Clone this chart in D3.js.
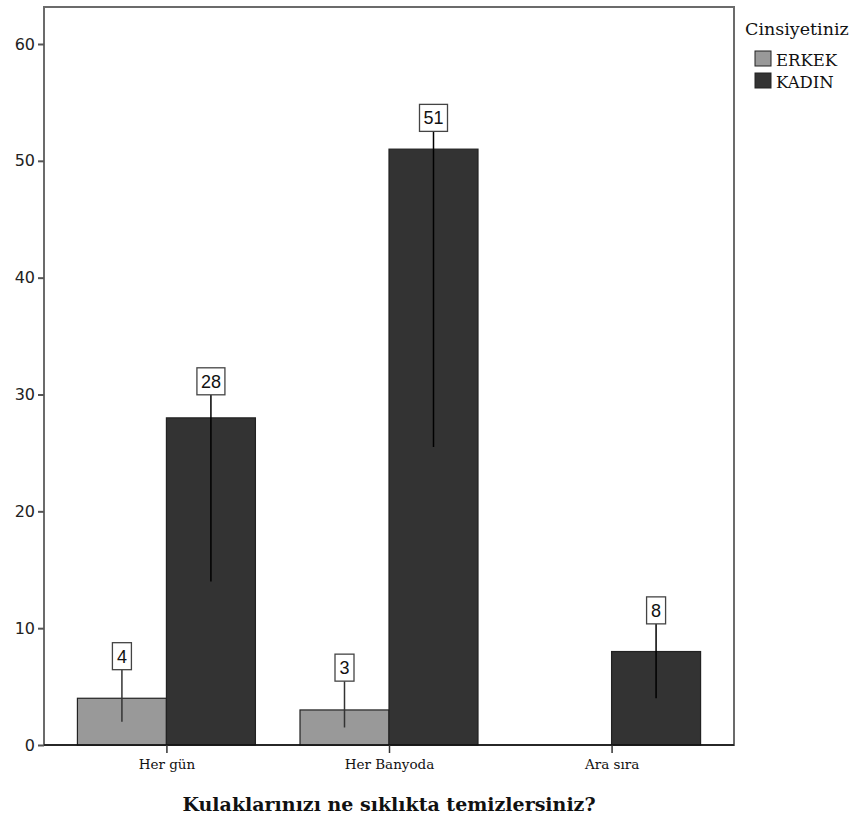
<!DOCTYPE html>
<html><head><meta charset="utf-8">
<script src="https://cdn.jsdelivr.net/npm/d3@7"></script>
<style>body{margin:0;background:#fff}</style>
</head><body>
<svg id="c" width="853" height="819"></svg>
<script>
const categories = ["Her gün", "Her Banyoda", "Ara sıra"];
const seriesNames = ["ERKEK", "KADIN"];
const erkek = [4, 3, null];
const kadin = [28, 51, 8];
const yTicks = [0, 10, 20, 30, 40, 50, 60];
const legendTitle = "Cinsiyetiniz";
const xTitle = "Kulaklarınızı ne sıklıkta temizlersiniz?";
const colors = ["#999999", "#333333"];

const svg = d3.select("#c");
const L = 44, R = 734, T = 7, B = 745;
const y = d3.scaleLinear().domain([0, 60]).range([B, 44]);
const x = d3.scalePoint().domain(categories).range([L, R]).padding(0.55);
const barW = 89;

svg.append("rect").attr("x", L).attr("y", T).attr("width", R - L).attr("height", B - T)
  .attr("fill", "none").attr("stroke", "#6b6b6b").attr("stroke-width", 2);

const ya = svg.append("g").attr("transform", `translate(${L},0)`)
  .call(d3.axisLeft(y).tickValues(yTicks).tickSize(6).tickPadding(3));
ya.select(".domain").remove();
ya.selectAll("line").attr("stroke", "#555").attr("stroke-width", 2);
ya.selectAll("text").attr("font-family", "DejaVu Sans").attr("font-size", 16).attr("fill", "#222");

const series = [erkek, kadin];
series.forEach((vals, s) => {
  vals.forEach((v, i) => {
    if (v == null) return;
    const cx = x(categories[i]);
    const x0 = s === 0 ? cx - barW : cx;
    svg.append("rect").attr("x", x0).attr("y", y(v)).attr("width", barW).attr("height", y(0) - y(v))
      .attr("fill", colors[s]).attr("stroke", "#222").attr("stroke-width", 1.2);
  });
});

svg.append("line").attr("x1", L).attr("x2", R).attr("y1", y(0)).attr("y2", y(0))
  .attr("stroke", "#111").attr("stroke-width", 1.5);
const xa = svg.append("g").attr("transform", `translate(0,${B})`)
  .call(d3.axisBottom(x).tickSize(8).tickPadding(6));
xa.select(".domain").remove();
xa.selectAll("line").attr("stroke", "#333").attr("stroke-width", 1.5);
xa.selectAll("text").attr("font-family", "DejaVu Serif").attr("font-size", 13.5).attr("fill", "#111");

series.forEach((vals, s) => {
  vals.forEach((v, i) => {
    if (v == null) return;
    const cx = x(categories[i]) + (s === 0 ? -barW / 2 : barW / 2);
    const top = y(v);
    const boxC = top - (43 - v * 0.23);
    const txt = String(v);
    const bw = txt.length === 1 ? 19 : 28, bh = 27;
    svg.append("line").attr("x1", cx).attr("x2", cx).attr("y1", y(v / 2)).attr("y2", boxC + bh / 2)
      .attr("stroke", s === 0 ? "#333" : "#000").attr("stroke-width", 1.5);
    svg.append("rect").attr("x", cx - bw / 2).attr("y", boxC - bh / 2).attr("width", bw).attr("height", bh)
      .attr("fill", "#fff").attr("stroke", "#444").attr("stroke-width", 1.3);
    svg.append("text").attr("x", cx).attr("y", boxC + 6.5).attr("text-anchor", "middle")
      .attr("font-family", "Liberation Sans").attr("font-size", 18).attr("fill", "#111").text(txt);
  });
});

svg.append("text").attr("x", (L + R) / 2).attr("y", 811).attr("text-anchor", "middle")
  .attr("font-family", "DejaVu Serif").attr("font-weight", "bold").attr("font-size", 19)
  .attr("fill", "#111").text(xTitle);

svg.append("text").attr("x", 745).attr("y", 35).attr("font-family", "DejaVu Serif")
  .attr("font-size", 17.5).attr("fill", "#111").text(legendTitle);
seriesNames.forEach((n, i) => {
  const yy = 51 + i * 22;
  svg.append("rect").attr("x", 755).attr("y", yy).attr("width", 16).attr("height", 15)
    .attr("fill", colors[i]).attr("stroke", "#222").attr("stroke-width", 1);
  svg.append("text").attr("x", 776).attr("y", yy + 15).attr("font-family", "DejaVu Serif")
    .attr("font-size", 16.5).attr("fill", "#111").text(n);
});
</script>
</body></html>
